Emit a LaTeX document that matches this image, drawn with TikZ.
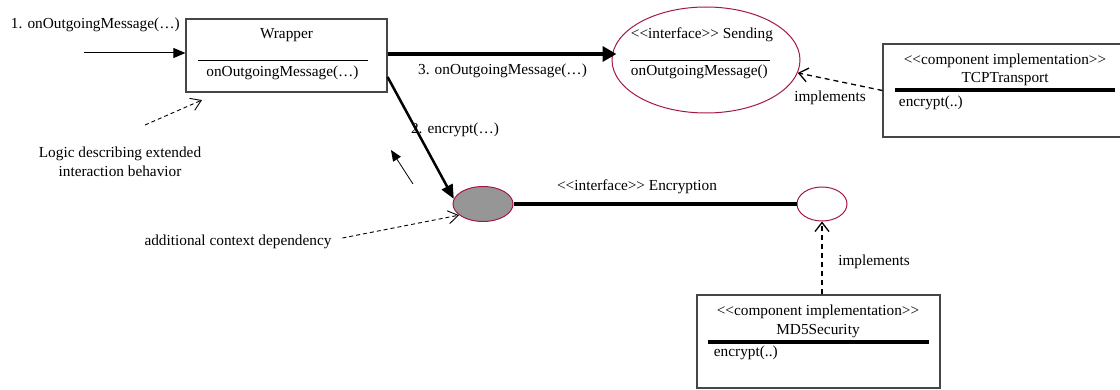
\documentclass[tikz,border=0pt]{standalone}
\usepackage{fontspec}
\setmainfont{Liberation Serif}
\usetikzlibrary{shapes.geometric,arrows.meta}
\definecolor{ifaceRed}{RGB}{165,25,65}
\definecolor{boxGray}{RGB}{70,70,70}
\definecolor{encGray}{RGB}{150,150,150}

\begin{document}
\begin{tikzpicture}[x=1pt,y=1pt,yscale=-1,xscale=1,
  txt/.style={inner sep=0.75pt,font=\fontsize{15.3}{19}\selectfont},
  classbox/.style={draw=boxGray,line width=1.2pt,inner sep=0pt},
  iface/.style={ellipse,draw=ifaceRed,line width=1pt,inner sep=0pt},
  msg/.style={-{Triangle[length=12pt,width=10pt]},line width=1pt},
  bigmsg/.style={-{Triangle[length=14pt,width=15pt]},line width=3.5pt},
  realize/.style={-{Straight Barb[length=9pt,width=14pt]},dash pattern={on 5pt off 4pt},line width=1.3pt},
  note/.style={-{Straight Barb[length=10pt,width=13pt]},dash pattern={on 4pt off 3pt},line width=0.9pt}]
                \useasboundingbox (0,0) rectangle (1120,390);
                % boxes and interfaces
                \node [classbox,minimum width=201pt,minimum height=73pt] (wrapper) at (286.5,55.5) {};
                \node [iface,minimum width=188pt,minimum height=106pt] (sending) at (706,60) {};
                \node [classbox,minimum width=242pt,minimum height=93pt] (tcp) at (1004,90.5) {};
                \node [iface,fill=encGray,minimum width=60pt,minimum height=35pt] (enc) at (483,204) {};
                \node [iface,minimum width=50pt,minimum height=34pt] (impl) at (822,204) {};
                \node [classbox,minimum width=243pt,minimum height=93pt] (md5) at (818.5,341.5) {};
                % texts
                \node [txt,anchor=west] (inlbl) at (10,25) {1. onOutgoingMessage(…)};
                \node [txt] (wtitle) at (286.5,35) {Wrapper};
                \draw [line width=0.8pt] (198,60) -- (368,60);
                \node [txt] (wop) at (282.5,73) {onOutgoingMessage(…)};
                \node [txt] (sendlbl) at (502.5,71) {3. onOutgoingMessage(…)};
                \node [txt] (enclbl) at (455,130) {2. encrypt(…)};
                \node [txt,anchor=west] (stitle) at (630,35) {<{}<interface>{}> Sending};
                \draw [line width=0.8pt] (630,60) -- (770,60);
                \node [txt,anchor=west] (sop) at (630,72) {onOutgoingMessage()};
                \node [txt] (impl1) at (830,98) {implements};
                \node [txt] (tstereo) at (1005,61) {<{}<component implementation>{}>};
                \node [txt] (ttitle) at (1005,79) {TCPTransport};
                \draw [line width=3.5pt] (895,90) -- (1115,90);
                \node [txt,anchor=west] (top) at (898,103) {encrypt(..)};
                \node [txt] (ilbl) at (637,187) {<{}<interface>{}> Encryption};
                \node [txt] (impl2) at (874,262) {implements};
                \node [txt] (mstereo) at (818,312) {<{}<component implementation>{}>};
                \node [txt] (mtitle) at (818,331) {MD5Security};
                \draw [line width=3.5pt] (708,342) -- (929,342);
                \node [txt,anchor=west] (mop) at (713,353) {encrypt(..)};
                \node [txt,align=center] (logic) at (120,162) {Logic describing extended\\interaction behavior};
                \node [txt] (ctx) at (238,242) {additional context dependency};
                % free ends
                \coordinate (in) at (84,53);
                \coordinate (logictail) at (145,125);
                \coordinate (logichead) at (202,100);
                \coordinate (backtail) at (413,184);
                \coordinate (backhead) at (391,150);
                % connectors
                \draw [msg] (in) -- (wrapper.west |- in);
                \draw [bigmsg] (wrapper.east |- 0,54) -- ([xshift=5pt]sending.west |- 0,54);
                \draw [-{Triangle[length=14pt,width=12pt]},line width=2.5pt] (wrapper.east |- 0,77) -- (enc.170);
                \draw [line width=3.5pt] (enc.east) -- (impl.west);
                \draw [realize] (tcp.west) -- (sending.-8);
                \draw [realize] (impl.south |- md5.north) -- (impl.south);
                \draw [note] (logictail) -- (logichead);
                \draw [-{Triangle[length=11pt,width=9pt]},line width=0.8pt] (backtail) -- (backhead);
                \draw [note] ([xshift=10pt,yshift=-4pt]ctx.east) -- (enc.205);
            \end{tikzpicture}
\end{document}
